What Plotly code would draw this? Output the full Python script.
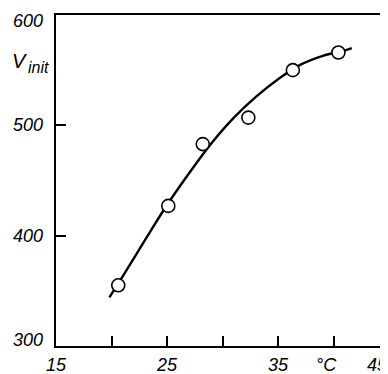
import plotly.graph_objects as go

# Measured points (temperature °C, V_init)
temp = [20.6, 25.1, 28.2, 32.3, 36.3, 40.4]
v_init = [355, 427, 483, 507, 550, 566]

# Smooth fitted curve
curve_t = [19.8, 21, 23, 25, 27, 29, 31, 33, 35, 37, 39, 41, 41.6]
curve_v = [344, 363, 396, 428, 457, 484, 507, 526, 542, 555, 563, 568, 570]

x_tick_vals = [20, 25, 30, 35, 40]
y_tick_vals = [400, 500]
x_label_pos = [15, 25, 35, 39.37, 43.96]
x_label_text = ["15", "25", "35", "°C", "45"]
y_label_pos = [594.5, 500, 400, 305.5]
y_label_text = ["600", "500", "400", "300"]

FONT = dict(family="Liberation Sans, Arial, sans-serif", size=18, color="black", style="italic")
FONT_V = dict(family="Liberation Sans, Arial, sans-serif", size=20, color="black", style="italic")
FONT_SUB = dict(family="Liberation Sans, Arial, sans-serif", size=16, color="black", style="italic")

fig = go.Figure()
fig.add_trace(go.Scatter(x=curve_t, y=curve_v, mode="lines",
                         line=dict(color="black", width=2.4, shape="spline", smoothing=1.0), hoverinfo="skip"))
fig.add_trace(go.Scatter(x=temp, y=v_init, mode="markers",
                         marker=dict(symbol="circle", size=13, color="white", line=dict(color="black", width=1.6))))

anns = []
for xv, t in zip(x_label_pos, x_label_text):
    anns.append(dict(x=xv, y=0, xref="x", yref="paper", text=t, showarrow=False,
                     yanchor="top", yshift=-7, font=FONT))
for yv, t in zip(y_label_pos, y_label_text):
    anns.append(dict(x=0, y=yv, xref="paper", yref="y", text=t, showarrow=False,
                     xanchor="right", xshift=-11, font=FONT))
anns.append(dict(x=0, y=558, xref="paper", yref="y", text="V", showarrow=False,
                 xanchor="right", xshift=-27, font=FONT_V))
anns.append(dict(x=0, y=552, xref="paper", yref="y", text="init", showarrow=False,
                 xanchor="left", xshift=-30, font=FONT_SUB))

# page has an 8px body margin at top/left, so the figure is 8px smaller and those margins reduced by 8
fig.update_layout(
    width=380, height=366,
    margin=dict(l=48, r=0, t=7, b=28),
    paper_bgcolor="white", plot_bgcolor="white",
    showlegend=False,
    annotations=anns,
    xaxis=dict(range=[15, 44.86], showgrid=False, zeroline=False, showline=True, mirror=True,
               linecolor="black", linewidth=2, ticks="inside", ticklen=10, tickwidth=1.6, tickcolor="black",
               tickvals=x_tick_vals, showticklabels=False),
    yaxis=dict(range=[300, 600], showgrid=False, zeroline=False, showline=True,
               linecolor="black", linewidth=2, ticks="inside", ticklen=10, tickwidth=1.6, tickcolor="black",
               tickvals=y_tick_vals, showticklabels=False),
)

fig.write_html("out.html")
